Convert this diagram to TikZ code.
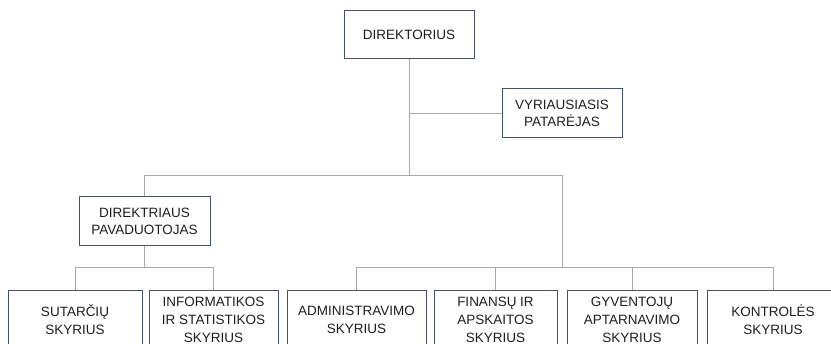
\documentclass[tikz,border=0pt]{standalone}
\usepackage{fontspec}
\setmainfont{Liberation Sans}
\definecolor{boxline}{HTML}{44506E}
\definecolor{conn}{HTML}{A8A8A8}
\definecolor{txt}{HTML}{1E1E1E}
\begin{document}
\begin{tikzpicture}[x=1pt,y=-1pt,
  box/.style={draw=boxline, line width=1pt, fill=white, rectangle, align=center,
    inner sep=0pt, text=txt, font=\fontsize{13.5}{17.7}\selectfont},
  link/.style={draw=conn, line width=1pt}]
\path[use as bounding box] (0,0) rectangle (831,344);
\fill[white] (0,0) rectangle (831,344);
\clip (0,0) rectangle (831,344);

\node[box, minimum width=130pt, minimum height=48pt] (dir) at (409,35) {DIREKTORIUS};
\node[box, minimum width=120pt, minimum height=49pt] (vyr) at (562,113.5) {VYRIAUSIASIS\\PATARĖJAS};
\node[box, minimum width=131pt, minimum height=49pt] (pav) at (144.5,221.5) {DIREKTRIAUS\\PAVADUOTOJAS};

\node[box, minimum width=134pt, minimum height=58pt] (sut) at (75,320) {SUTARČIŲ\\SKYRIUS};
\node[box, minimum width=129pt, minimum height=58pt] (inf) at (213.5,320) {INFORMATIKOS\\IR STATISTIKOS\\SKYRIUS};
\node[box, minimum width=139pt, minimum height=58pt] (adm) at (356.5,320) {ADMINISTRAVIMO\\SKYRIUS};
\node[box, minimum width=123pt, minimum height=58pt] (fin) at (495.5,320) {FINANSŲ IR\\APSKAITOS\\SKYRIUS};
\node[box, minimum width=130pt, minimum height=58pt] (gyv) at (632,320) {GYVENTOJŲ\\APTARNAVIMO\\SKYRIUS};
\node[box, minimum width=132pt, minimum height=58pt] (kon) at (773,320) {KONTROLĖS\\SKYRIUS};

\coordinate (top) at (409,176);
\coordinate (rdrop) at (562,176);
\coordinate (rbus) at (562,268);
\coordinate (lbus) at (144.5,268);

% trunk
\draw[link] (dir.south) -- (top);
\draw[link] (dir.south |- vyr.west) -- (vyr.west);
\draw[link] (pav.north) -- (pav.north |- top) -- (rdrop) -- (rbus);
% right group
\draw[link] (adm.north) -- (adm.north |- rbus) -- (kon.north |- rbus) -- (kon.north);
\draw[link] (fin.north) -- (fin.north |- rbus);
\draw[link] (gyv.north) -- (gyv.north |- rbus);
% left group
\draw[link] (pav.south) -- (lbus);
\draw[link] (sut.north) -- (sut.north |- lbus) -- (inf.north |- lbus) -- (inf.north);
\end{tikzpicture}
\end{document}
